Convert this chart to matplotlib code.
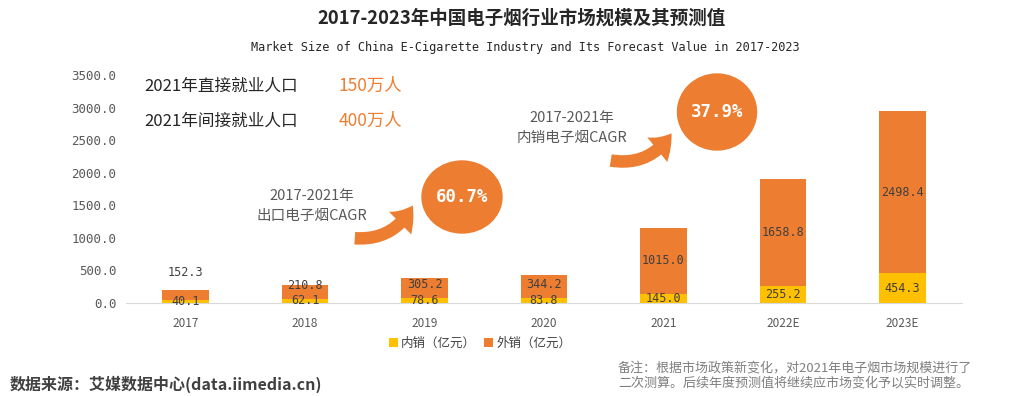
import matplotlib
matplotlib.use("Agg")
import matplotlib.pyplot as plt
from matplotlib.patches import Ellipse, FancyArrowPatch

plt.rcParams['font.family'] = ['Noto Sans CJK SC', 'DejaVu Sans']

# ---- data ----
years = ['2017', '2018', '2019', '2020', '2021', '2022E', '2023E']
domestic = [40.1, 62.1, 78.6, 83.8, 145.0, 255.2, 454.3]      # 内销（亿元）
export = [152.3, 210.8, 305.2, 344.2, 1015.0, 1658.8, 2498.4]  # 外销（亿元）
yticks = [0, 500, 1000, 1500, 2000, 2500, 3000, 3500]
series_names = ['内销（亿元）', '外销（亿元）']

ORANGE = '#ED7D31'
YELLOW = '#FFC000'
W, H = 1028, 396

fig = plt.figure(figsize=(W / 100, H / 100), dpi=100)
fig.patch.set_facecolor('white')


def px(x, y):
    return (x / W, 1 - y / H)


ax = fig.add_axes([126 / W, 1 - 303 / H, 836 / W, 227.6 / H])
x = list(range(len(years)))
b1 = ax.bar(x, domestic, width=0.39, color=YELLOW, label=series_names[0], zorder=2)
b2 = ax.bar(x, export, width=0.39, bottom=domestic, color=ORANGE, label=series_names[1], zorder=2)

ax.set_xlim(-0.5, 6.5)
ax.set_ylim(0, 3500)
ax.set_yticks(yticks)
ax.set_yticklabels([f'{v:.1f}' for v in yticks], family='DejaVu Sans Mono', fontsize=9, color='#595959')
ax.set_xticks(x)
ax.set_xticklabels(years, fontsize=8.5, color='#595959')
ax.tick_params(axis='both', length=0)
ax.tick_params(axis='y', pad=7)
ax.tick_params(axis='x', pad=10)
for s in ['top', 'right', 'left']:
    ax.spines[s].set_visible(False)
ax.spines['bottom'].set_color('#D9D9D9')
ax.set_facecolor('none')

lab_kw = dict(family='DejaVu Sans Mono', fontsize=8.5, color='#404040', ha='center', va='center', zorder=3)
for i, (d, e) in enumerate(zip(domestic, export)):
    ax.text(i, d / 2, f'{d:.1f}', **lab_kw)
    yc = d + e / 2
    if e < 200:
        ax.annotate(f'{e:.1f}', xy=(i, d + e), xytext=(0, 13), textcoords='offset points',
                    arrowprops=dict(arrowstyle='-', color='#BFBFBF', lw=0.6, shrinkA=6, shrinkB=0), **lab_kw)
    else:
        ax.text(i, max(yc, d + 200), f'{e:.1f}', **lab_kw)

# legend
leg = fig.legend(handles=[b1, b2], labels=series_names, loc='center', bbox_to_anchor=px(480, 343),
                 ncol=2, frameon=False, fontsize=9, handlelength=0.7, handleheight=0.7,
                 handletextpad=0.3, columnspacing=0.6)
for t in leg.get_texts():
    t.set_color('#404040')

# titles
fig.text(*px(522, 18), '2017-2023年中国电子烟行业市场规模及其预测值', ha='center', va='center',
         fontsize=13.3, fontweight='bold', color='#262626')
fig.text(*px(525, 48), 'Market Size of China E-Cigarette Industry and Its Forecast Value in 2017-2023',
         ha='center', va='center', family='DejaVu Sans Mono', fontsize=8.6, color='#262626')

# employment annotations
fig.text(*px(144, 86), '2021年直接就业人口', ha='left', va='center', fontsize=12, color='#262626')
fig.text(*px(144, 121), '2021年间接就业人口', ha='left', va='center', fontsize=12, color='#262626')
fig.text(*px(339, 86), '150万人', ha='left', va='center', fontsize=12.5, color=ORANGE)
fig.text(*px(339, 121), '400万人', ha='left', va='center', fontsize=12.5, color=ORANGE)

# CAGR bubbles
for (cx, cy, rw, rh, txt) in [(462, 197, 80, 72, '60.7%'), (717, 112, 79, 76, '37.9%')]:
    e = Ellipse(px(cx, cy), rw / W, rh / H, transform=fig.transFigure, color=ORANGE, zorder=5)
    fig.add_artist(e)
    fig.text(*px(cx, cy), txt, ha='center', va='center', fontsize=12.5, fontweight='bold',
             color='white', family='DejaVu Sans Mono', zorder=6)

fig.text(*px(312, 206), '2017-2021年\n出口电子烟CAGR', ha='center', va='center', fontsize=10.5,
         color='#595959', linespacing=1.5)
fig.text(*px(572, 128), '2017-2021年\n内销电子烟CAGR', ha='center', va='center', fontsize=10.5,
         color='#595959', linespacing=1.5)

for (a, b) in [((352, 238), (414, 203)), ((608, 160), (673, 131))]:
    arr = FancyArrowPatch(px(*a), px(*b), transform=fig.transFigure,
                          connectionstyle='arc3,rad=0.35',
                          arrowstyle='simple,head_width=1.9,head_length=1.3,tail_width=0.75',
                          mutation_scale=12, color=ORANGE, lw=0, zorder=5)
    fig.add_artist(arr)

# footer
fig.text(*px(10, 384), '数据来源：艾媒数据中心(data.iimedia.cn)', ha='left', va='center',
         fontsize=11.5, fontweight='bold', color='#404040')
fig.text(*px(618, 376), '备注：根据市场政策新变化，对2021年电子烟市场规模进行了\n二次测算。后续年度预测值将继续应市场变化予以实时调整。',
         ha='left', va='center', fontsize=9.4, color='#7F7F7F', linespacing=1.3)

fig.savefig('out.png', dpi=100, facecolor='white')
